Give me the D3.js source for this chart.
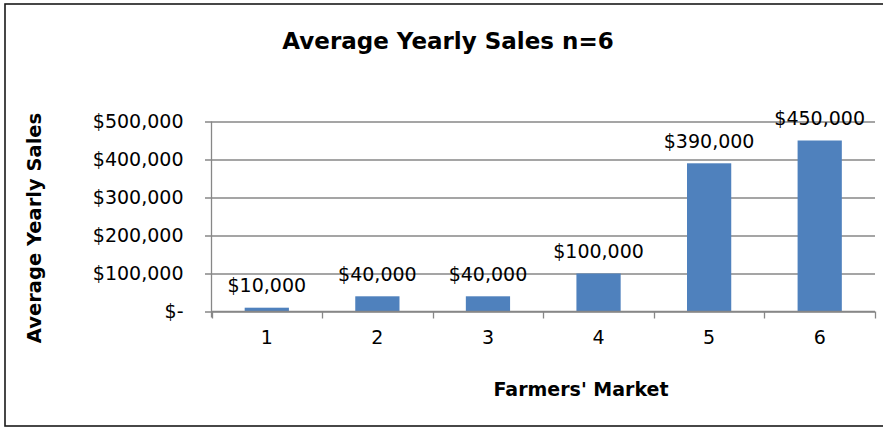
<!DOCTYPE html>
<html>
<head>
<meta charset="utf-8">
<script src="https://cdn.jsdelivr.net/npm/d3@7"></script>
<style>
  html, body { margin: 0; padding: 0; background: #fff; }
  svg { display: block; font-family: "DejaVu Sans", Verdana, sans-serif; }
</style>
</head>
<body>
<svg id="chart" width="883" height="428"></svg>
<script>
// Chart data
const markets = ["1", "2", "3", "4", "5", "6"];
const avgSales = [10000, 40000, 40000, 100000, 390000, 450000];
const salesLabels = ["$10,000", "$40,000", "$40,000", "$100,000", "$390,000", "$450,000"];
const yTickValues = [0, 100000, 200000, 300000, 400000, 500000];
const yTickLabels = ["$-", "$100,000", "$200,000", "$300,000", "$400,000", "$500,000"];

const titleText = "Average Yearly Sales n=6";
const xTitle = "Farmers' Market";
const yTitle = "Average Yearly Sales";

const svg = d3.select("#chart");

// Outer frame
svg.append("rect")
  .attr("x", 5).attr("y", 4)
  .attr("width", 885).attr("height", 422)
  .attr("fill", "#fff")
  .attr("stroke", "#1a1a1a")
  .attr("stroke-width", 1.6);

const plot = { left: 211.5, right: 875, top: 121.5, bottom: 311.5 };

const x = d3.scaleBand()
  .domain(markets)
  .range([plot.left, plot.right])
  .paddingInner(0.6)
  .paddingOuter(0.3);

const y = d3.scaleLinear()
  .domain([0, 500000])
  .range([plot.bottom, plot.top]);

const gridColor = "#878787";

// Horizontal gridlines with short left ticks
const yAxis = d3.axisLeft(y)
  .tickValues(yTickValues)
  .tickSize(-(plot.right - plot.left))
  .tickSizeOuter(0)
  .tickFormat("");
const gy = svg.append("g")
  .attr("transform", `translate(${plot.left},0)`)
  .call(yAxis);
gy.select(".domain").remove();
gy.selectAll(".tick line")
  .attr("x1", -6.5)
  .attr("stroke", gridColor)
  .attr("stroke-width", 1.3);

// Y tick labels
svg.append("g")
  .selectAll("text")
  .data(yTickValues)
  .join("text")
  .attr("x", 183.5)
  .attr("y", d => y(d))
  .attr("dy", "0.36em")
  .attr("text-anchor", "end")
  .attr("font-size", 19)
  .attr("fill", "#000")
  .text((d, i) => yTickLabels[i]);

// Vertical axis line
svg.append("line")
  .attr("x1", plot.left).attr("x2", plot.left)
  .attr("y1", plot.top).attr("y2", plot.bottom + 6)
  .attr("stroke", gridColor)
  .attr("stroke-width", 1.3);

// Bars
svg.append("g")
  .selectAll("rect")
  .data(avgSales)
  .join("rect")
  .attr("x", (d, i) => x(markets[i]))
  .attr("y", d => y(d))
  .attr("width", x.bandwidth())
  .attr("height", d => y(0) - y(d))
  .attr("fill", "#4F81BD");

// X axis baseline and category boundary ticks
const step = x.step();
const boundaries = d3.range(markets.length + 1).map(i => plot.left + i * step);
svg.append("line")
  .attr("x1", plot.left).attr("x2", plot.right)
  .attr("y1", plot.bottom).attr("y2", plot.bottom)
  .attr("stroke", gridColor)
  .attr("stroke-width", 1.3);
svg.append("g")
  .selectAll("line")
  .data(boundaries)
  .join("line")
  .attr("x1", d => Math.round(d) + 0.5).attr("x2", d => Math.round(d) + 0.5)
  .attr("y1", plot.bottom).attr("y2", plot.bottom + 7)
  .attr("stroke", gridColor)
  .attr("stroke-width", 1.3);

// Category labels
svg.append("g")
  .selectAll("text")
  .data(markets)
  .join("text")
  .attr("x", d => x(d) + x.bandwidth() / 2)
  .attr("y", 344)
  .attr("text-anchor", "middle")
  .attr("font-size", 19)
  .attr("fill", "#000")
  .text(d => d);

// Value labels above bars
svg.append("g")
  .selectAll("text")
  .data(avgSales)
  .join("text")
  .attr("x", (d, i) => x(markets[i]) + x.bandwidth() / 2)
  .attr("y", d => y(d) - 15.5)
  .attr("text-anchor", "middle")
  .attr("font-size", 19)
  .attr("fill", "#000")
  .text((d, i) => salesLabels[i]);

// Titles
svg.append("text")
  .attr("x", 448).attr("y", 48.5)
  .attr("text-anchor", "middle")
  .attr("font-size", 23)
  .attr("font-weight", "bold")
  .text(titleText);

svg.append("text")
  .attr("x", 581).attr("y", 396)
  .attr("text-anchor", "middle")
  .attr("font-size", 19)
  .attr("font-weight", "bold")
  .text(xTitle);

svg.append("text")
  .attr("transform", "translate(41,228) rotate(-90)")
  .attr("text-anchor", "middle")
  .attr("font-size", 19.5)
  .attr("font-weight", "bold")
  .text(yTitle);
</script>
</body>
</html>
